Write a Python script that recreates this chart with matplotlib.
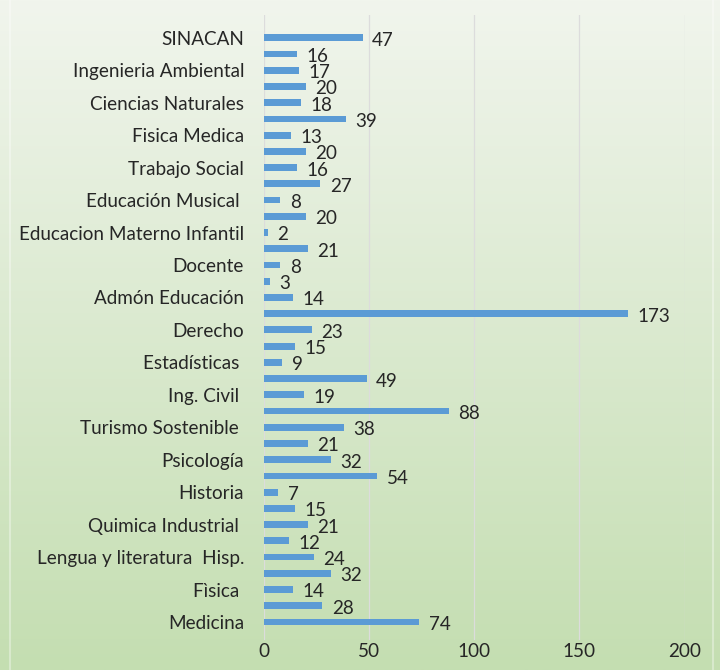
import matplotlib.pyplot as plt
import numpy as np

# values top -> bottom as they appear in the chart
values = [47, 16, 17, 20, 18, 39, 13, 20, 16, 27, 8, 20, 2, 21, 8, 3, 14, 173,
          23, 15, 9, 49, 19, 88, 38, 21, 32, 54, 7, 15, 21, 12, 24, 32, 14, 28, 74]

# only every other category name is printed on the axis
shown_labels = ['SINACAN', 'Ingenieria Ambiental', 'Ciencias Naturales',
                'Fisica Medica', 'Trabajo Social', 'Educación Musical ',
                'Educacion Materno Infantil', 'Docente', 'Admón Educación',
                'Derecho', 'Estadísticas ', 'Ing. Civil ', 'Turismo Sostenible ',
                'Psicología', 'Historia', 'Quimica Industrial ',
                'Lengua y literatura  Hisp.', 'Fìsica ', 'Medicina']

xticks = [0, 50, 100, 150, 200]

plt.rcParams['font.family'] = ['Lato', 'DejaVu Sans']
textsize = 13.6
bar_color = '#5b9bd5'

fig = plt.figure(figsize=(7.2, 6.7), dpi=100)

# green gradient background
bg = fig.add_axes([0, 0, 1, 1], zorder=0)
top_c = np.array([241, 245, 237]) / 255.
bot_c = np.array([196, 222, 177]) / 255.
t = np.linspace(0, 1, 256)[:, None]
grad = top_c[None, :] * (1 - t) + bot_c[None, :] * t
bg.imshow(grad[:, None, :], aspect='auto', extent=[0, 1, 0, 1])
bg.axvline(0.014, color='white', alpha=0.35, lw=1.5)
bg.axvline(0.990, color='white', alpha=0.35, lw=1.5)
bg.set_axis_off()

ax = fig.add_axes([0.366, 0.045, 0.585, 0.933], zorder=1)
ax.patch.set_alpha(0)

pos = np.arange(len(values))
ax.barh(pos, values, height=0.42, color=bar_color, zorder=3)

for p, v in zip(pos, values):
    ax.text(v + 4.5, p + 0.15, str(v), va='center', ha='left',
            fontsize=textsize, color='#262626', zorder=4)

ax.set_xlim(0, 200)
ax.set_ylim(len(values) - 1 + 1.1, -1.42)
ax.set_xticks(xticks)
ax.set_yticks(pos[::2])
ax.set_yticklabels(shown_labels)

ax.grid(axis='x', color='#dcdcdc', lw=0.9, zorder=0)
ax.grid(axis='y', visible=False)
for s in ax.spines.values():
    s.set_visible(False)
ax.tick_params(length=0, labelsize=textsize, colors='#262626')
ax.tick_params(axis='x', pad=2)
ax.tick_params(axis='y', pad=14)

plt.savefig('out.png', dpi=100)
